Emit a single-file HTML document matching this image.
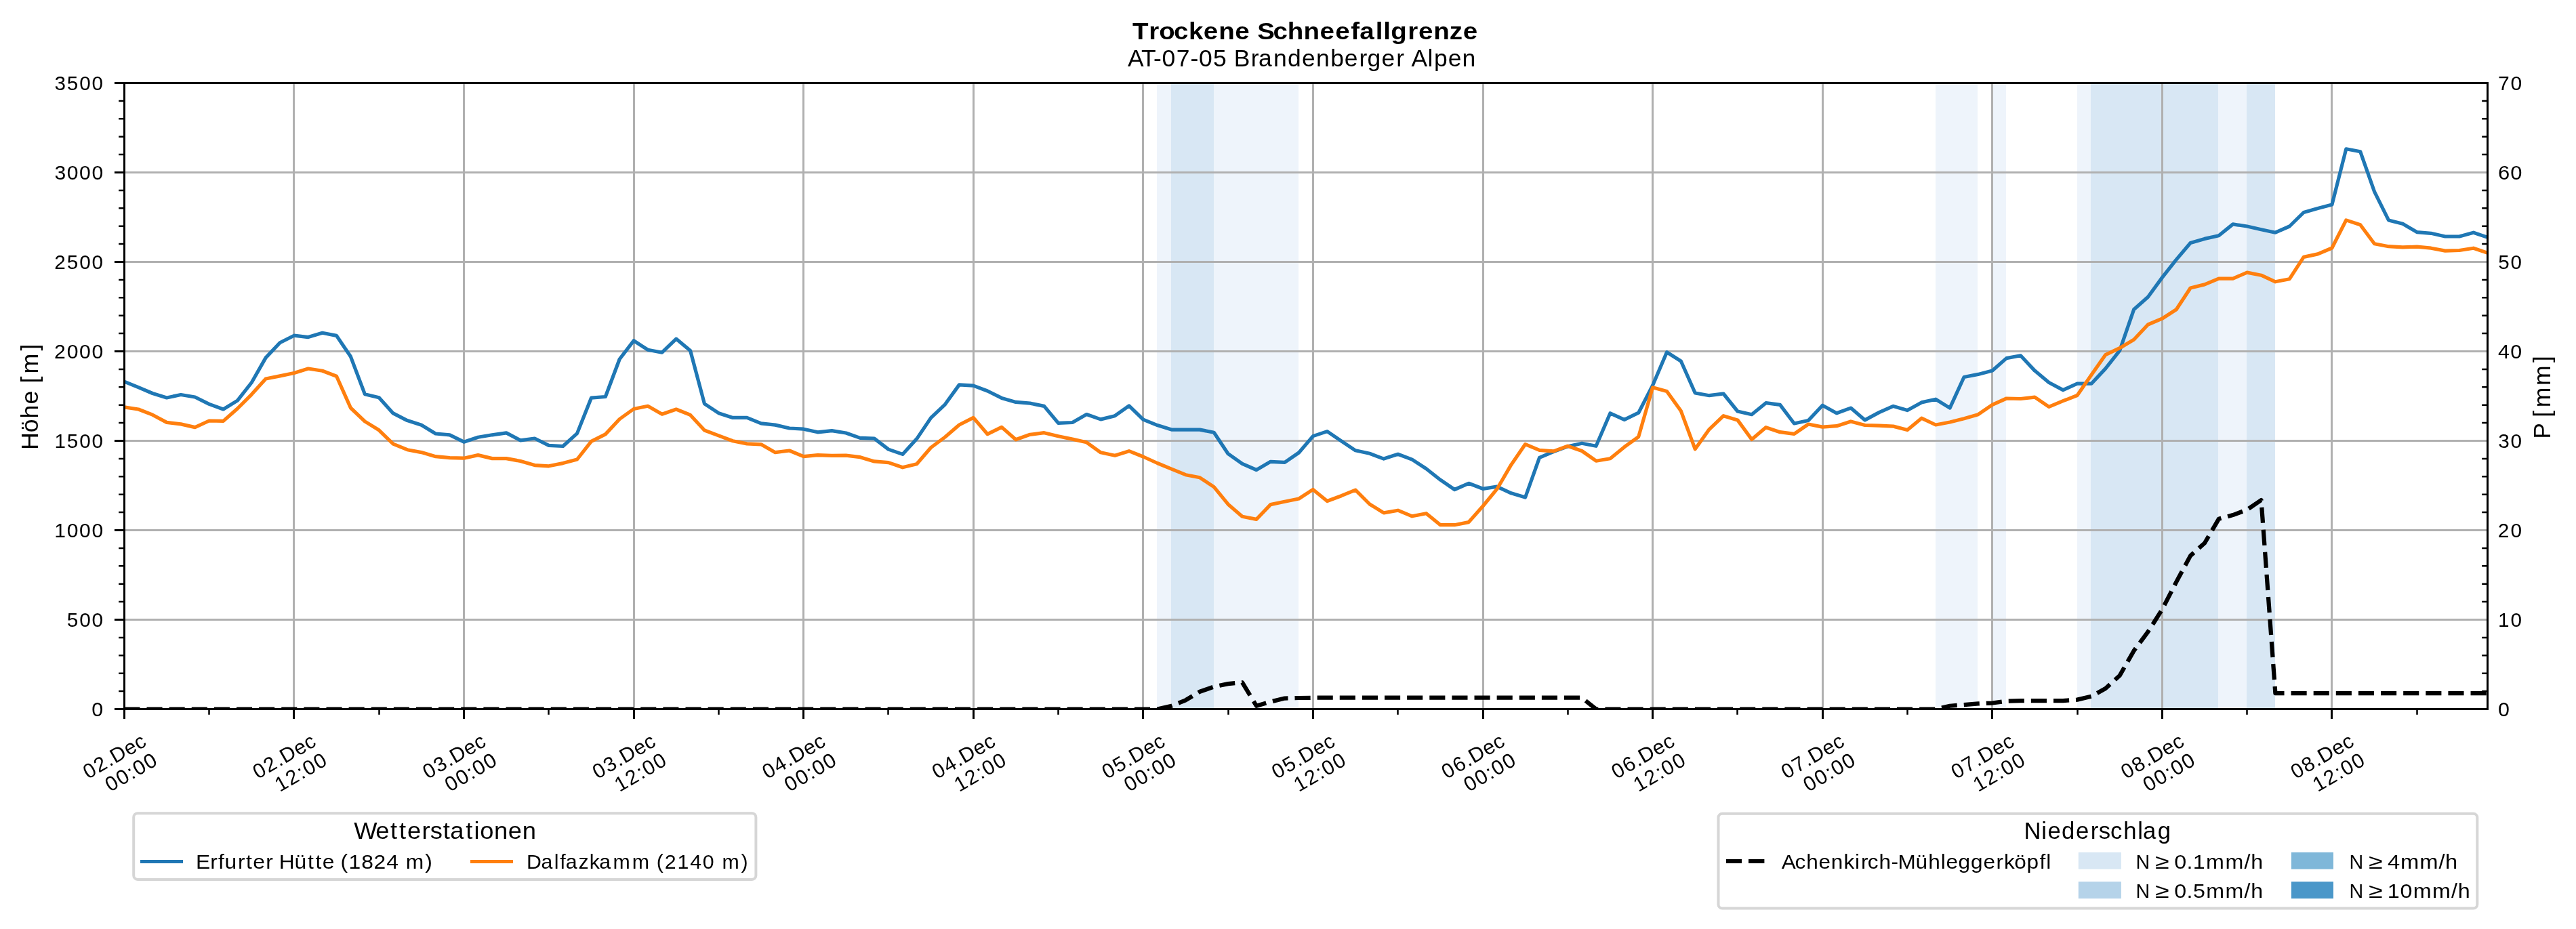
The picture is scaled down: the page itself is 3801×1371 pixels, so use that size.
<!DOCTYPE html><html><head><meta charset="utf-8"><style>html,body{margin:0;padding:0;background:#fff;}svg{display:block;will-change:transform;}text{font-family:"Liberation Sans", sans-serif;fill:#000;font-kerning:none;font-variant-ligatures:none;}</style></head><body>
<svg width="3801" height="1371" viewBox="0 0 3801 1371">
<rect x="0" y="0" width="3801" height="1371" fill="#fff"/>
<defs><clipPath id="ax"><rect x="183.5" y="122.5" width="3487.0" height="924.0"/></clipPath></defs>
<rect x="1707" y="122.5" width="21" height="924.0" fill="#eef4fb"/>
<rect x="1728" y="122.5" width="63" height="924.0" fill="#d8e7f4"/>
<rect x="1791" y="122.5" width="125" height="924.0" fill="#eef4fb"/>
<rect x="2856" y="122.5" width="62" height="924.0" fill="#eef4fb"/>
<rect x="2939" y="122.5" width="21" height="924.0" fill="#eef4fb"/>
<rect x="3065" y="122.5" width="20" height="924.0" fill="#eef4fb"/>
<rect x="3085" y="122.5" width="188" height="924.0" fill="#d8e7f4"/>
<rect x="3273" y="122.5" width="42" height="924.0" fill="#eef4fb"/>
<rect x="3315" y="122.5" width="42" height="924.0" fill="#d8e7f4"/>
<path d="M433.50 122.5V1046.5M684.50 122.5V1046.5M935.50 122.5V1046.5M1185.50 122.5V1046.5M1436.50 122.5V1046.5M1686.50 122.5V1046.5M1937.50 122.5V1046.5M2188.50 122.5V1046.5M2438.50 122.5V1046.5M2689.50 122.5V1046.5M2939.50 122.5V1046.5M3190.50 122.5V1046.5M3440.50 122.5V1046.5M183.5 914.50H3670.5M183.5 782.50H3670.5M183.5 650.50H3670.5M183.5 518.50H3670.5M183.5 386.50H3670.5M183.5 254.50H3670.5" stroke="#b0b0b0" stroke-width="3" fill="none"/>
<g clip-path="url(#ax)" fill="none" stroke-linejoin="round" stroke-linecap="butt">
<path d="M183.33 563.10 L204.21 571.70 L225.09 580.50 L245.98 587.00 L266.86 582.50 L287.74 586.00 L308.62 596.40 L329.50 604.00 L350.39 591.10 L371.27 564.50 L392.15 527.90 L413.03 505.80 L433.91 495.20 L454.80 497.60 L475.68 491.30 L496.56 495.40 L517.44 526.30 L538.32 581.70 L559.21 586.70 L580.09 609.90 L600.97 620.60 L621.85 627.30 L642.73 640.00 L663.62 641.80 L684.50 652.20 L705.38 645.20 L726.26 641.80 L747.14 638.90 L768.03 649.90 L788.91 647.00 L809.79 657.30 L830.67 658.50 L851.55 639.60 L872.44 587.20 L893.32 585.50 L914.20 530.00 L935.08 502.80 L955.96 516.30 L976.85 520.20 L997.73 500.10 L1018.61 517.50 L1039.49 595.90 L1060.37 609.70 L1081.26 616.40 L1102.14 616.40 L1123.02 624.80 L1143.90 627.10 L1164.78 632.00 L1185.67 633.20 L1206.55 637.80 L1227.43 635.60 L1248.31 639.00 L1269.19 646.40 L1290.08 647.10 L1310.96 663.10 L1331.84 670.40 L1352.72 647.60 L1373.60 616.60 L1394.49 596.80 L1415.37 567.90 L1436.25 569.10 L1457.13 577.00 L1478.01 587.40 L1498.90 593.40 L1519.78 595.10 L1540.66 599.40 L1561.54 624.40 L1582.42 623.50 L1603.31 611.50 L1624.19 618.90 L1645.07 613.70 L1665.95 598.90 L1686.83 619.20 L1707.72 627.60 L1728.60 634.10 L1749.48 634.10 L1770.36 634.10 L1791.24 638.20 L1812.13 669.70 L1833.01 684.40 L1853.89 693.50 L1874.77 681.30 L1895.65 682.30 L1916.54 668.00 L1937.42 643.60 L1958.30 636.60 L1979.18 650.90 L2000.06 664.80 L2020.95 669.30 L2041.83 677.10 L2062.71 670.30 L2083.59 678.10 L2104.47 691.80 L2125.36 708.20 L2146.24 722.50 L2167.12 713.30 L2188.00 721.30 L2208.88 718.20 L2229.77 727.80 L2250.65 734.00 L2271.53 675.30 L2292.41 666.50 L2313.29 658.90 L2334.18 654.20 L2355.06 658.30 L2375.94 609.80 L2396.82 619.40 L2417.70 609.20 L2438.59 568.70 L2459.47 519.70 L2480.35 533.00 L2501.23 580.00 L2522.11 583.70 L2543.00 581.00 L2563.88 607.00 L2584.76 611.70 L2605.64 594.70 L2626.52 597.40 L2647.41 625.00 L2668.29 620.50 L2689.17 598.20 L2710.05 609.70 L2730.93 602.10 L2751.82 619.90 L2772.70 608.60 L2793.58 599.40 L2814.46 605.60 L2835.34 593.90 L2856.23 589.20 L2877.11 602.10 L2897.99 556.50 L2918.87 552.40 L2939.75 547.00 L2960.64 528.60 L2981.52 524.80 L3002.40 547.10 L3023.28 564.50 L3044.16 575.60 L3065.05 566.20 L3085.93 566.20 L3106.81 543.90 L3127.69 517.40 L3148.57 456.80 L3169.46 438.20 L3190.34 409.60 L3211.22 383.10 L3232.10 358.50 L3252.98 352.40 L3273.87 347.70 L3294.75 330.90 L3315.63 334.00 L3336.51 338.70 L3357.39 343.20 L3378.28 334.00 L3399.16 313.50 L3420.04 307.40 L3440.92 302.00 L3461.80 219.80 L3482.69 223.70 L3503.57 282.90 L3524.45 324.90 L3545.33 330.30 L3566.21 342.60 L3587.10 344.30 L3607.98 349.00 L3628.86 349.00 L3649.74 343.20 L3670.62 350.30" stroke="#1f77b4" stroke-width="5.21"/>
<path d="M183.33 600.90 L204.21 604.00 L225.09 612.20 L245.98 623.40 L266.86 625.90 L287.74 630.60 L308.62 621.00 L329.50 621.40 L350.39 603.00 L371.27 582.10 L392.15 559.00 L413.03 554.90 L433.91 550.50 L454.80 544.00 L475.68 547.30 L496.56 555.30 L517.44 602.00 L538.32 621.90 L559.21 634.80 L580.09 655.10 L600.97 663.70 L621.85 667.60 L642.73 673.70 L663.62 675.70 L684.50 676.20 L705.38 671.60 L726.26 676.60 L747.14 676.60 L768.03 680.50 L788.91 686.60 L809.79 687.80 L830.67 683.60 L851.55 678.00 L872.44 651.30 L893.32 640.90 L914.20 618.50 L935.08 603.50 L955.96 599.30 L976.85 611.20 L997.73 604.00 L1018.61 612.40 L1039.49 635.00 L1060.37 642.90 L1081.26 650.80 L1102.14 654.90 L1123.02 655.80 L1143.90 667.70 L1164.78 665.00 L1185.67 673.70 L1206.55 671.70 L1227.43 672.30 L1248.31 672.10 L1269.19 674.70 L1290.08 680.90 L1310.96 682.60 L1331.84 689.80 L1352.72 684.70 L1373.60 660.50 L1394.49 645.00 L1415.37 627.00 L1436.25 616.40 L1457.13 640.70 L1478.01 630.40 L1498.90 648.80 L1519.78 641.30 L1540.66 638.70 L1561.54 643.80 L1582.42 648.10 L1603.31 652.80 L1624.19 667.80 L1645.07 672.30 L1665.95 665.70 L1686.83 674.00 L1707.72 683.50 L1728.60 692.10 L1749.48 700.70 L1770.36 704.80 L1791.24 718.60 L1812.13 744.20 L1833.01 762.30 L1853.89 766.40 L1874.77 744.60 L1895.65 740.30 L1916.54 736.00 L1937.42 722.40 L1958.30 739.50 L1979.18 731.70 L2000.06 723.10 L2020.95 744.00 L2041.83 756.90 L2062.71 753.20 L2083.59 761.80 L2104.47 757.70 L2125.36 774.70 L2146.24 774.70 L2167.12 770.60 L2188.00 747.00 L2208.88 721.70 L2229.77 685.90 L2250.65 655.60 L2271.53 664.40 L2292.41 665.90 L2313.29 658.30 L2334.18 665.50 L2355.06 680.20 L2375.94 676.70 L2396.82 659.70 L2417.70 644.60 L2438.59 571.80 L2459.47 577.50 L2480.35 606.60 L2501.23 662.80 L2522.11 633.60 L2543.00 613.70 L2563.88 619.90 L2584.76 648.50 L2605.64 630.70 L2626.52 637.70 L2647.41 640.30 L2668.29 626.00 L2689.17 630.10 L2710.05 628.70 L2730.93 621.90 L2751.82 627.50 L2772.70 628.10 L2793.58 629.10 L2814.46 634.60 L2835.34 617.20 L2856.23 627.00 L2877.11 623.00 L2897.99 617.80 L2918.87 611.70 L2939.75 597.40 L2960.64 588.00 L2981.52 588.50 L3002.40 586.20 L3023.28 600.40 L3044.16 591.70 L3065.05 583.50 L3085.93 553.30 L3106.81 523.60 L3127.69 513.70 L3148.57 501.30 L3169.46 479.00 L3190.34 470.20 L3211.22 456.70 L3232.10 425.00 L3252.98 419.90 L3273.87 411.10 L3294.75 411.10 L3315.63 402.10 L3336.51 406.20 L3357.39 415.80 L3378.28 411.70 L3399.16 379.40 L3420.04 374.90 L3440.92 366.00 L3461.80 324.90 L3482.69 331.80 L3503.57 359.80 L3524.45 363.70 L3545.33 364.90 L3566.21 364.10 L3587.10 366.20 L3607.98 370.10 L3628.86 369.50 L3649.74 366.20 L3670.62 373.30" stroke="#ff7f0e" stroke-width="5.21"/>
<path d="M183.33 1046.50 L204.21 1046.50 L225.09 1046.50 L245.98 1046.50 L266.86 1046.50 L287.74 1046.50 L308.62 1046.50 L329.50 1046.50 L350.39 1046.50 L371.27 1046.50 L392.15 1046.50 L413.03 1046.50 L433.91 1046.50 L454.80 1046.50 L475.68 1046.50 L496.56 1046.50 L517.44 1046.50 L538.32 1046.50 L559.21 1046.50 L580.09 1046.50 L600.97 1046.50 L621.85 1046.50 L642.73 1046.50 L663.62 1046.50 L684.50 1046.50 L705.38 1046.50 L726.26 1046.50 L747.14 1046.50 L768.03 1046.50 L788.91 1046.50 L809.79 1046.50 L830.67 1046.50 L851.55 1046.50 L872.44 1046.50 L893.32 1046.50 L914.20 1046.50 L935.08 1046.50 L955.96 1046.50 L976.85 1046.50 L997.73 1046.50 L1018.61 1046.50 L1039.49 1046.50 L1060.37 1046.50 L1081.26 1046.50 L1102.14 1046.50 L1123.02 1046.50 L1143.90 1046.50 L1164.78 1046.50 L1185.67 1046.50 L1206.55 1046.50 L1227.43 1046.50 L1248.31 1046.50 L1269.19 1046.50 L1290.08 1046.50 L1310.96 1046.50 L1331.84 1046.50 L1352.72 1046.50 L1373.60 1046.50 L1394.49 1046.50 L1415.37 1046.50 L1436.25 1046.50 L1457.13 1046.50 L1478.01 1046.50 L1498.90 1046.50 L1519.78 1046.50 L1540.66 1046.50 L1561.54 1046.50 L1582.42 1046.50 L1603.31 1046.50 L1624.19 1046.50 L1645.07 1046.50 L1665.95 1046.50 L1686.83 1046.50 L1707.72 1046.50 L1728.60 1041.75 L1749.48 1033.30 L1770.36 1020.76 L1791.24 1013.50 L1812.13 1009.14 L1833.01 1007.16 L1853.89 1041.75 L1874.77 1035.68 L1895.65 1030.53 L1916.54 1030.00 L1937.42 1029.74 L1958.30 1029.74 L1979.18 1029.74 L2000.06 1029.74 L2020.95 1029.74 L2041.83 1029.74 L2062.71 1029.74 L2083.59 1029.74 L2104.47 1029.74 L2125.36 1029.74 L2146.24 1029.74 L2167.12 1029.74 L2188.00 1029.74 L2208.88 1029.74 L2229.77 1029.74 L2250.65 1029.74 L2271.53 1029.74 L2292.41 1029.74 L2313.29 1029.74 L2334.18 1029.74 L2355.06 1046.50 L2375.94 1046.50 L2396.82 1046.50 L2417.70 1046.50 L2438.59 1046.50 L2459.47 1046.50 L2480.35 1046.50 L2501.23 1046.50 L2522.11 1046.50 L2543.00 1046.50 L2563.88 1046.50 L2584.76 1046.50 L2605.64 1046.50 L2626.52 1046.50 L2647.41 1046.50 L2668.29 1046.50 L2689.17 1046.50 L2710.05 1046.50 L2730.93 1046.50 L2751.82 1046.50 L2772.70 1046.50 L2793.58 1046.50 L2814.46 1046.50 L2835.34 1046.50 L2856.23 1046.50 L2877.11 1041.75 L2897.99 1040.16 L2918.87 1038.45 L2939.75 1037.52 L2960.64 1034.62 L2981.52 1034.09 L3002.40 1034.09 L3023.28 1034.09 L3044.16 1034.09 L3065.05 1032.64 L3085.93 1027.62 L3106.81 1016.01 L3127.69 997.00 L3148.57 960.44 L3169.46 932.45 L3190.34 899.45 L3211.22 858.93 L3232.10 820.12 L3252.98 801.51 L3273.87 765.87 L3294.75 760.06 L3315.63 752.27 L3336.51 738.02 L3357.39 1023.00 L3378.28 1023.00 L3399.16 1023.00 L3420.04 1023.00 L3440.92 1023.00 L3461.80 1023.00 L3482.69 1023.00 L3503.57 1023.00 L3524.45 1023.00 L3545.33 1023.00 L3566.21 1023.00 L3587.10 1023.00 L3607.98 1023.00 L3628.86 1023.00 L3649.74 1023.00 L3670.62 1023.00" stroke="#000" stroke-width="6.25" stroke-dasharray="23.125 10"/>
</g>
<rect x="183.5" y="122.5" width="3487.0" height="924.0" fill="none" stroke="#000" stroke-width="3"/>
<path d="M183.5 1046.50h-14.58M183.5 914.50h-14.58M183.5 782.50h-14.58M183.5 650.50h-14.58M183.5 518.50h-14.58M183.5 386.50h-14.58M183.5 254.50h-14.58M183.5 122.50h-14.58M183.50 1046.5v14.58M433.50 1046.5v14.58M684.50 1046.5v14.58M935.50 1046.5v14.58M1185.50 1046.5v14.58M1436.50 1046.5v14.58M1686.50 1046.5v14.58M1937.50 1046.5v14.58M2188.50 1046.5v14.58M2438.50 1046.5v14.58M2689.50 1046.5v14.58M2939.50 1046.5v14.58M3190.50 1046.5v14.58M3440.50 1046.5v14.58" stroke="#000" stroke-width="3" fill="none"/>
<path d="M183.5 1020.10h-8.33M3670.5 1020.10h-8.33M183.5 993.70h-8.33M3670.5 993.70h-8.33M183.5 967.30h-8.33M3670.5 967.30h-8.33M183.5 940.90h-8.33M3670.5 940.90h-8.33M183.5 888.10h-8.33M3670.5 888.10h-8.33M183.5 861.70h-8.33M3670.5 861.70h-8.33M183.5 835.30h-8.33M3670.5 835.30h-8.33M183.5 808.90h-8.33M3670.5 808.90h-8.33M183.5 756.10h-8.33M3670.5 756.10h-8.33M183.5 729.70h-8.33M3670.5 729.70h-8.33M183.5 703.30h-8.33M3670.5 703.30h-8.33M183.5 676.90h-8.33M3670.5 676.90h-8.33M183.5 624.10h-8.33M3670.5 624.10h-8.33M183.5 597.70h-8.33M3670.5 597.70h-8.33M183.5 571.30h-8.33M3670.5 571.30h-8.33M183.5 544.90h-8.33M3670.5 544.90h-8.33M183.5 492.10h-8.33M3670.5 492.10h-8.33M183.5 465.70h-8.33M3670.5 465.70h-8.33M183.5 439.30h-8.33M3670.5 439.30h-8.33M183.5 412.90h-8.33M3670.5 412.90h-8.33M183.5 360.10h-8.33M3670.5 360.10h-8.33M183.5 333.70h-8.33M3670.5 333.70h-8.33M183.5 307.30h-8.33M3670.5 307.30h-8.33M183.5 280.90h-8.33M3670.5 280.90h-8.33M183.5 228.10h-8.33M3670.5 228.10h-8.33M183.5 201.70h-8.33M3670.5 201.70h-8.33M183.5 175.30h-8.33M3670.5 175.30h-8.33M183.5 148.90h-8.33M3670.5 148.90h-8.33M308.50 1046.5v8.33M559.50 1046.5v8.33M809.50 1046.5v8.33M1060.50 1046.5v8.33M1310.50 1046.5v8.33M1561.50 1046.5v8.33M1812.50 1046.5v8.33M2062.50 1046.5v8.33M2313.50 1046.5v8.33M2563.50 1046.5v8.33M2814.50 1046.5v8.33M3065.50 1046.5v8.33M3315.50 1046.5v8.33M3566.50 1046.5v8.33" stroke="#000" stroke-width="2.5" fill="none"/>
<text transform="scale(1.00300,1)" x="134.98" y="1057.50" font-size="30.3">0</text>
<text transform="scale(0.98429,1)" x="100.32 119.07 137.71" y="925.50" font-size="30.3">500</text>
<text transform="scale(0.99258,1)" x="80.89 99.53 118.01 136.49" y="793.50" font-size="30.3">1000</text>
<text transform="scale(0.97819,1)" x="82.21 101.00 119.87 138.62" y="661.50" font-size="30.3">1500</text>
<text transform="scale(0.99427,1)" x="80.51 99.34 117.79 136.24" y="529.50" font-size="30.3">2000</text>
<text transform="scale(0.98006,1)" x="81.80 100.79 119.62 138.34" y="397.50" font-size="30.3">2500</text>
<text transform="scale(0.99312,1)" x="81.04 99.47 117.94 136.41" y="265.50" font-size="30.3">3000</text>
<text transform="scale(0.97905,1)" x="82.32 100.90 119.75 138.49" y="133.50" font-size="30.3">3500</text>
<text transform="scale(1.00300,1)" x="3675.00" y="1057.50" font-size="30.3">0</text>
<text transform="scale(0.98163,1)" x="3755.01 3773.85" y="925.50" font-size="30.3">10</text>
<text transform="scale(0.98532,1)" x="3740.68 3759.68" y="793.50" font-size="30.3">20</text>
<text transform="scale(0.98320,1)" x="3749.20 3767.82" y="661.50" font-size="30.3">30</text>
<text transform="scale(1.00306,1)" x="3674.78 3693.06" y="529.50" font-size="30.3">40</text>
<text transform="scale(0.97491,1)" x="3781.02 3799.95" y="397.50" font-size="30.3">50</text>
<text transform="scale(1.02023,1)" x="3612.80 3630.78" y="265.50" font-size="30.3">60</text>
<text transform="scale(0.99233,1)" x="3714.52 3733.06" y="133.50" font-size="30.3">70</text>
<g transform="translate(218.33,1099.20) rotate(-30)"><text transform="scale(1.00111,1)" x="-101.89 -83.73 -65.24 -56.05 -33.35 -15.93" y="0.00" font-size="30.3">02.Dec</text><text transform="scale(1.01610,1)" x="-82.03 -63.77 -45.57 -35.83 -17.57" y="32.70" font-size="30.3">00:00</text></g>
<g transform="translate(468.91,1099.20) rotate(-30)"><text transform="scale(1.00111,1)" x="-101.89 -83.73 -65.24 -56.05 -33.35 -15.93" y="0.00" font-size="30.3">02.Dec</text><text transform="scale(0.99739,1)" x="-83.56 -65.19 -46.34 -36.34 -17.74" y="32.70" font-size="30.3">12:00</text></g>
<g transform="translate(719.50,1099.20) rotate(-30)"><text transform="scale(1.00027,1)" x="-101.96 -83.37 -65.29 -56.09 -33.37 -15.94" y="0.00" font-size="30.3">03.Dec</text><text transform="scale(1.01610,1)" x="-82.03 -63.77 -45.57 -35.83 -17.57" y="32.70" font-size="30.3">00:00</text></g>
<g transform="translate(970.08,1099.20) rotate(-30)"><text transform="scale(1.00027,1)" x="-101.96 -83.37 -65.29 -56.09 -33.37 -15.94" y="0.00" font-size="30.3">03.Dec</text><text transform="scale(0.99739,1)" x="-83.56 -65.19 -46.34 -36.34 -17.74" y="32.70" font-size="30.3">12:00</text></g>
<g transform="translate(1220.67,1099.20) rotate(-30)"><text transform="scale(1.00789,1)" x="-101.26 -82.85 -64.83 -55.75 -33.18 -15.87" y="0.00" font-size="30.3">04.Dec</text><text transform="scale(1.01610,1)" x="-82.03 -63.77 -45.57 -35.83 -17.57" y="32.70" font-size="30.3">00:00</text></g>
<g transform="translate(1471.25,1099.20) rotate(-30)"><text transform="scale(1.00789,1)" x="-101.26 -82.85 -64.83 -55.75 -33.18 -15.87" y="0.00" font-size="30.3">04.Dec</text><text transform="scale(0.99739,1)" x="-83.56 -65.19 -46.34 -36.34 -17.74" y="32.70" font-size="30.3">12:00</text></g>
<g transform="translate(1721.83,1099.20) rotate(-30)"><text transform="scale(0.99713,1)" x="-102.26 -83.76 -65.48 -56.23 -33.45 -15.96" y="0.00" font-size="30.3">05.Dec</text><text transform="scale(1.01610,1)" x="-82.03 -63.77 -45.57 -35.83 -17.57" y="32.70" font-size="30.3">00:00</text></g>
<g transform="translate(1972.42,1099.20) rotate(-30)"><text transform="scale(0.99713,1)" x="-102.26 -83.76 -65.48 -56.23 -33.45 -15.96" y="0.00" font-size="30.3">05.Dec</text><text transform="scale(0.99739,1)" x="-83.56 -65.19 -46.34 -36.34 -17.74" y="32.70" font-size="30.3">12:00</text></g>
<g transform="translate(2223.00,1099.20) rotate(-30)"><text transform="scale(1.01423,1)" x="-100.68 -82.38 -64.45 -55.48 -33.03 -15.82" y="0.00" font-size="30.3">06.Dec</text><text transform="scale(1.01610,1)" x="-82.03 -63.77 -45.57 -35.83 -17.57" y="32.70" font-size="30.3">00:00</text></g>
<g transform="translate(2473.59,1099.20) rotate(-30)"><text transform="scale(1.01423,1)" x="-100.68 -82.38 -64.45 -55.48 -33.03 -15.82" y="0.00" font-size="30.3">06.Dec</text><text transform="scale(0.99739,1)" x="-83.56 -65.19 -46.34 -36.34 -17.74" y="32.70" font-size="30.3">12:00</text></g>
<g transform="translate(2724.17,1099.20) rotate(-30)"><text transform="scale(1.00374,1)" x="-101.64 -83.21 -65.08 -55.94 -33.29 -15.91" y="0.00" font-size="30.3">07.Dec</text><text transform="scale(1.01610,1)" x="-82.03 -63.77 -45.57 -35.83 -17.57" y="32.70" font-size="30.3">00:00</text></g>
<g transform="translate(2974.75,1099.20) rotate(-30)"><text transform="scale(1.00374,1)" x="-101.64 -83.21 -65.08 -55.94 -33.29 -15.91" y="0.00" font-size="30.3">07.Dec</text><text transform="scale(0.99739,1)" x="-83.56 -65.19 -46.34 -36.34 -17.74" y="32.70" font-size="30.3">12:00</text></g>
<g transform="translate(3225.34,1099.20) rotate(-30)"><text transform="scale(1.00980,1)" x="-101.08 -82.70 -64.71 -55.67 -33.14 -15.86" y="0.00" font-size="30.3">08.Dec</text><text transform="scale(1.01610,1)" x="-82.03 -63.77 -45.57 -35.83 -17.57" y="32.70" font-size="30.3">00:00</text></g>
<g transform="translate(3475.92,1099.20) rotate(-30)"><text transform="scale(1.00980,1)" x="-101.08 -82.70 -64.71 -55.67 -33.14 -15.86" y="0.00" font-size="30.3">08.Dec</text><text transform="scale(0.99739,1)" x="-83.56 -65.19 -46.34 -36.34 -17.74" y="32.70" font-size="30.3">12:00</text></g>
<text transform="translate(55.8,0) rotate(-90) scale(1.01136,1)" x="-656.44 -631.02 -610.49 -589.86 -569.64 -559.27 -545.20 -511.70" y="0.00" font-size="35.3">Höhe [m]</text>
<text transform="translate(3763.4,0) rotate(-90) scale(1.00511,1)" x="-644.57 -622.97 -612.54 -598.32 -566.02 -532.38" y="0.00" font-size="35.3">P [mm]</text>
<text transform="scale(1.09221,1)" x="1529.95 1552.15 1565.91 1585.86 1605.92 1625.92 1646.35 1668.34 1689.08 1698.67 1719.97 1739.40 1761.19 1783.18 1803.88 1825.06 1836.79 1858.42 1868.88 1879.00 1901.84 1916.26 1936.69 1958.26 1976.44" y="58.00" font-size="35.3" font-weight="bold">Trockene Schneefallgrenze</text>
<text transform="scale(1.00509,1)" x="1655.48 1675.39 1693.35 1705.93 1726.97 1747.51 1760.10 1781.07 1801.93 1811.65 1836.42 1847.58 1869.58 1890.34 1911.33 1932.05 1953.21 1973.80 1995.32 2007.32 2028.30 2049.82 2062.25 2071.99 2095.80 2105.24 2125.83 2146.54" y="97.70" font-size="35.3">AT-07-05 Brandenberger Alpen</text>
<rect x="197.2" y="1200.3" width="918.2" height="97.6" rx="5.8" ry="5.8" fill="#fff" stroke="#d6d6d6" stroke-width="4"/>
<text transform="scale(1.02985,1)" x="507.24 538.22 559.28 571.97 583.51 604.58 616.36 634.73 644.93 667.26 679.19 687.68 707.90 728.11 748.32" y="1238.20" font-size="35.3">Wetterstationen</text>
<path d="M207 1271.5H270" stroke="#1f77b4" stroke-width="5"/>
<path d="M694 1271.5H757" stroke="#ff7f0e" stroke-width="5"/>
<text transform="scale(1.04981,1)" x="275.31 295.48 306.76 315.84 334.30 345.71 355.62 373.71 384.17 392.29 413.92 432.46 443.35 453.27 470.39 478.62 490.10 507.94 525.25 543.30 560.78 570.39 597.61" y="1282.20" font-size="30.3">Erfurter Hütte (1824 m)</text>
<text transform="scale(1.00022,1)" x="776.80 798.34 817.48 826.19 834.58 853.25 869.45 884.13 904.25 932.66 959.83 968.55 980.51 999.30 1018.00 1036.56 1054.70 1065.20 1093.36" y="1282.20" font-size="30.3">Dalfazkamm (2140 m)</text>
<rect x="2535.5" y="1200.8" width="1119.8" height="139.8" rx="5.8" ry="5.8" fill="#fff" stroke="#d6d6d6" stroke-width="4"/>
<text transform="scale(0.98267,1)" x="3039.17 3065.42 3074.72 3095.64 3117.12 3139.05 3151.49 3169.01 3188.52 3209.85 3217.79 3240.01" y="1238.20" font-size="35.3">Niederschlag</text>
<path d="M2547 1271H2570M2580 1271H2603.4" stroke="#000" stroke-width="6"/>
<text transform="scale(1.04147,1)" x="2524.03 2543.02 2559.10 2576.63 2594.13 2612.09 2628.13 2636.60 2646.05 2662.13 2679.43 2688.99 2713.99 2731.91 2749.72 2757.22 2774.51 2792.29 2810.01 2828.23 2839.23 2853.88 2871.50 2889.72 2899.03" y="1282.40" font-size="30.3">Achenkirch-Mühleggerköpfl</text>
<rect x="3066.8" y="1257.8" width="63.1" height="24.9" fill="#d8e7f4"/>
<rect x="3066.8" y="1301.1" width="63.1" height="24.9" fill="#b5d3e9"/>
<rect x="3380.9" y="1257.8" width="62.1" height="24.9" fill="#7fb7d9"/>
<rect x="3380.9" y="1301.1" width="62.1" height="24.9" fill="#4a97c9"/>
<text transform="scale(0.94533,1)" x="3333.83" y="1282.40" font-size="30.3">N</text>
<text transform="scale(1.24313,1)" x="2558.15" y="1282.40" font-size="30.3">≥</text>
<text transform="scale(1.06412,1)" x="3014.83 3032.12 3040.82 3058.95 3085.65 3111.96 3121.06" y="1282.40" font-size="30.3">0.1mm/h</text>
<text transform="scale(0.94533,1)" x="3333.83" y="1324.90" font-size="30.3">N</text>
<text transform="scale(1.24313,1)" x="2558.15" y="1324.90" font-size="30.3">≥</text>
<text transform="scale(1.06110,1)" x="3023.46 3040.78 3049.58 3067.71 3094.49 3120.84 3129.98" y="1324.90" font-size="30.3">0.5mm/h</text>
<text transform="scale(0.94533,1)" x="3666.94" y="1282.40" font-size="30.3">N</text>
<text transform="scale(1.24313,1)" x="2811.46" y="1282.40" font-size="30.3">≥</text>
<text transform="scale(1.08018,1)" x="3261.42 3279.05 3305.35 3331.40 3340.30" y="1282.40" font-size="30.3">4mm/h</text>
<text transform="scale(0.94533,1)" x="3666.94" y="1324.90" font-size="30.3">N</text>
<text transform="scale(1.24313,1)" x="2811.46" y="1324.90" font-size="30.3">≥</text>
<text transform="scale(1.06483,1)" x="3308.38 3325.98 3343.92 3370.60 3396.90 3405.99" y="1324.90" font-size="30.3">10mm/h</text>
</svg></body></html>
